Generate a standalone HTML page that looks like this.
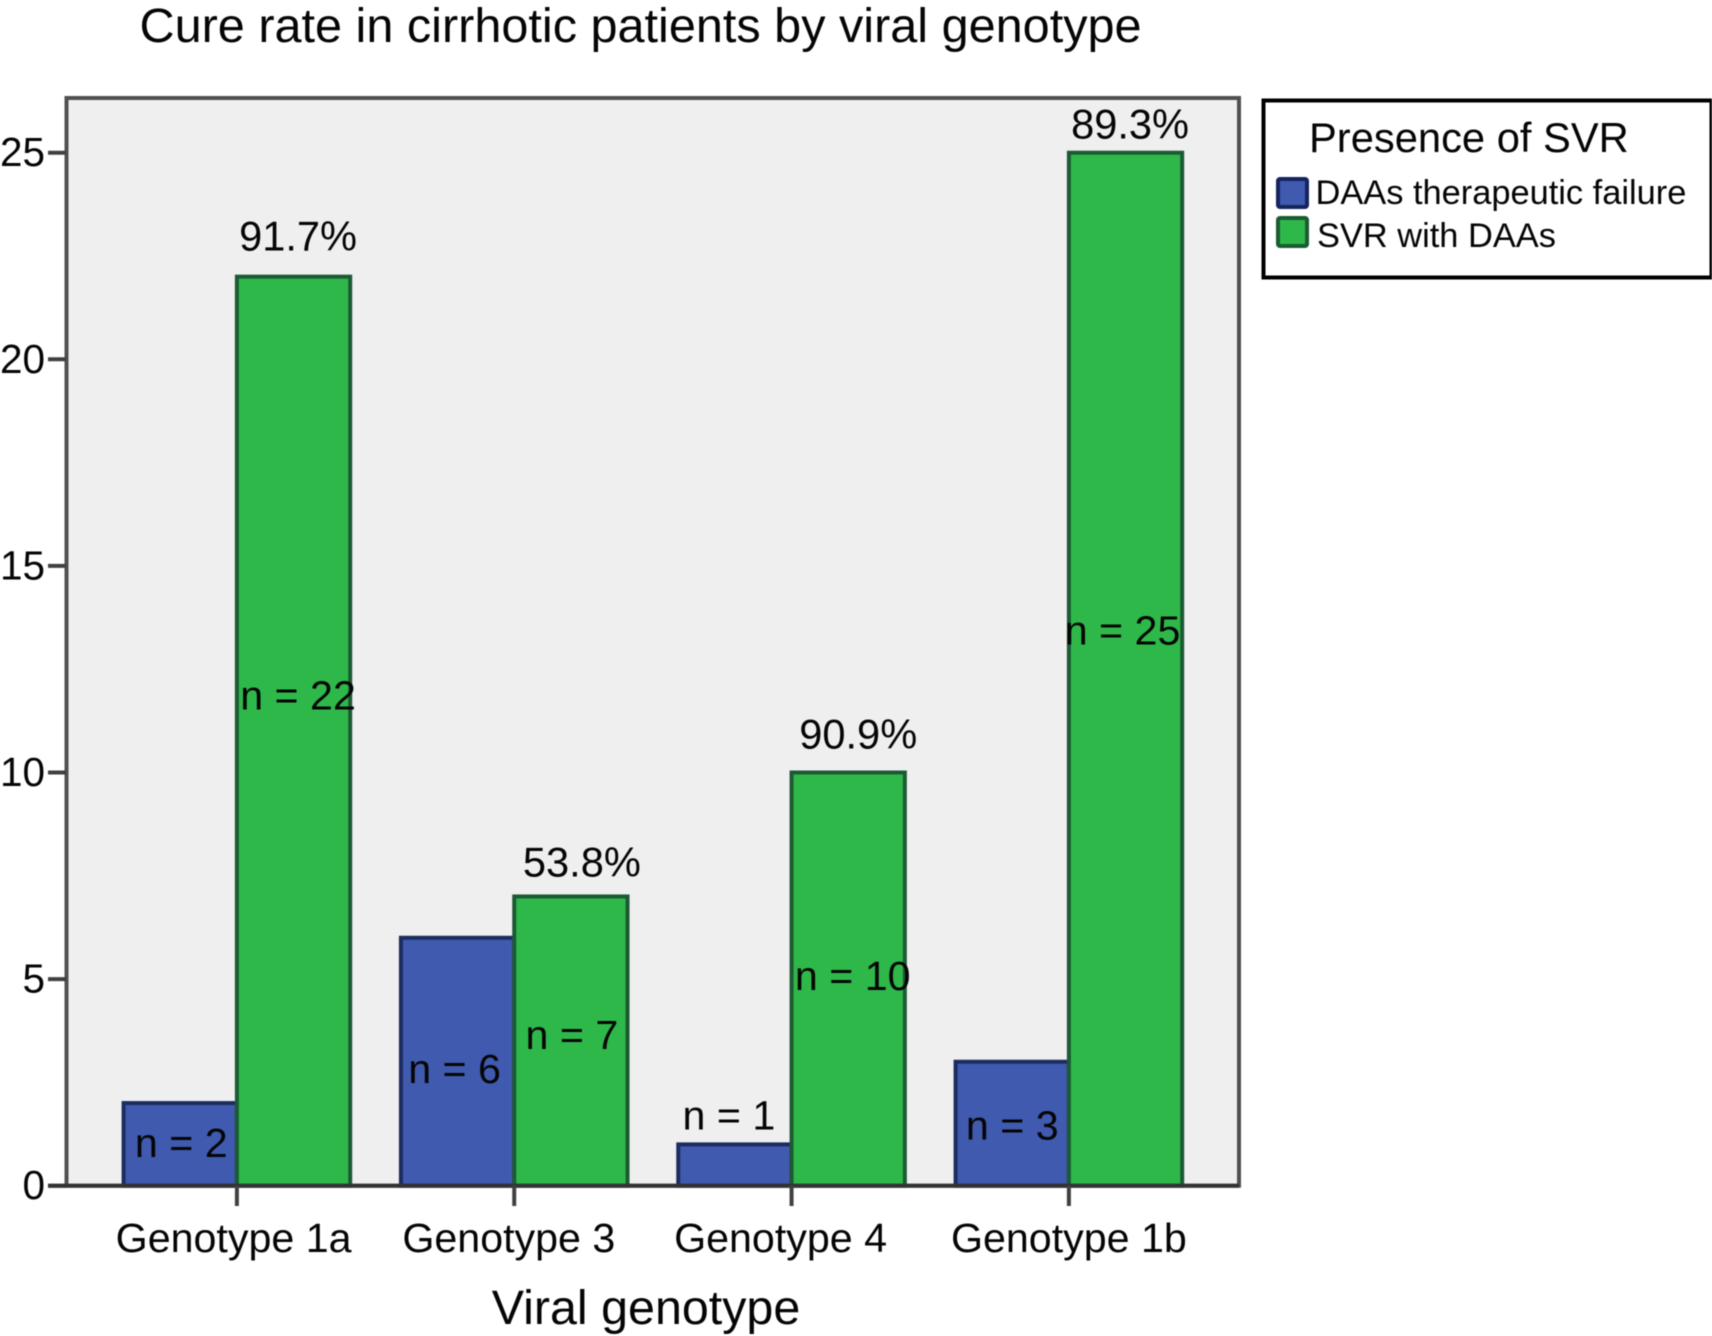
<!DOCTYPE html>
<html lang="en">
<head>
<meta charset="utf-8">
<title>Cure rate in cirrhotic patients by viral genotype</title>
<style>
html,body{margin:0;padding:0;background:#fff;}
svg{display:block;font-family:"Liberation Sans",Arial,sans-serif;filter:blur(0.5px);}
text{fill:#050505;}
</style>
</head>
<body>
<svg id="chart" xmlns="http://www.w3.org/2000/svg" width="1712" height="1336" viewBox="0 0 1712 1336">
  <rect x="0" y="0" width="1712" height="1336" fill="#ffffff"/>
  <text x="139.5" y="42" font-size="48.6">Cure rate in cirrhotic patients by viral genotype</text>
  <rect id="plot" x="66.5" y="98" width="1172.5" height="1087.7" fill="#efefef" stroke="#505050" stroke-width="4"/>
  <g id="y-axis"></g>
  <g id="bars"></g>
  <g id="x-axis"></g>
  <g id="labels"></g>
  <text x="646" y="1324" font-size="48.4" text-anchor="middle">Viral genotype</text>
  <g>
    <rect x="1263.5" y="100.5" width="448" height="177" fill="#ffffff" stroke="#000000" stroke-width="4"/>
    <text x="1309" y="152" font-size="41.7">Presence of SVR</text>
    <rect x="1278" y="179" width="29" height="28" rx="2" fill="#3f5aae" stroke="#15245e" stroke-width="4"/>
    <text x="1315.5" y="204" font-size="34.4">DAAs therapeutic failure</text>
    <rect x="1278" y="218" width="29" height="28" rx="2" fill="#2fb84a" stroke="#1a5c30" stroke-width="4"/>
    <text x="1317" y="247" font-size="34.4">SVR with DAAs</text>
  </g>
</svg>
<script>
// Chart data
var categories = ["Genotype 1a", "Genotype 3", "Genotype 4", "Genotype 1b"];
var failureCounts = [2, 6, 1, 3];
var svrCounts = [22, 7, 10, 25];
var cureRateLabels = ["91.7%", "53.8%", "90.9%", "89.3%"];
var yTicks = [0, 5, 10, 15, 20, 25];

// Layout
var NS = "http://www.w3.org/2000/svg";
var BASE_Y = 1185.7, UNIT_H = 41.32;
var FIRST_CENTER = 236.9, GROUP_STEP = 277.33, BAR_W = 113.3;
function yScale(v) { return BASE_Y - v * UNIT_H; }
function xCenter(i) { return FIRST_CENTER + i * GROUP_STEP; }

// Hand placement nudges of the annotation text, relative to each bar
var catNudge = [-3.3, -5.4, -11, 0];
var pctNudgeX = [4.5, 11, 10, 4.5];
var pctNudgeY = [-26, -20, -24, -14];
var failNudgeX = [1, -3, -6, 0];
var failNudgeY = [54, 145, -15, 78];
var svrNudgeX = [4.5, 1, 4.5, -3];
var svrNudgeY = [433, 152.5, 217.5, 492];

function mk(tag, attrs, parent) {
  var el = document.createElementNS(NS, tag);
  for (var k in attrs) el.setAttribute(k, attrs[k]);
  parent.appendChild(el);
  return el;
}

var yAxis = document.getElementById("y-axis");
yTicks.forEach(function (t) {
  var y = yScale(t);
  var tick = mk("line", { x1: 48, x2: 66, y1: y, y2: y, stroke: "#404040", "stroke-width": 4 }, yAxis);
  
  
  var lab = mk("text", { x: 45, y: y + 13.5, "font-size": 40.5, "text-anchor": "end" }, yAxis);
  
  
  lab.textContent = t;
});

var barsG = document.getElementById("bars");
categories.forEach(function (c, i) {
  var cx = xCenter(i);
  var yF = yScale(failureCounts[i]);
  var rF = mk("rect", { x: cx - BAR_W, y: yF, width: BAR_W, height: BASE_Y - yF, fill: "#3f5aae", stroke: "#1c2c5e", "stroke-width": 4 }, barsG);
  
  
  var yS = yScale(svrCounts[i]);
  var rS = mk("rect", { x: cx, y: yS, width: BAR_W, height: BASE_Y - yS, fill: "#2fb84a", stroke: "#1c5a33", "stroke-width": 4 }, barsG);
  
  
});

var xAxis = document.getElementById("x-axis");
var axisLine = mk("line", { x1: 48, x2: 1239, y1: BASE_Y, y2: BASE_Y, stroke: "#333333", "stroke-width": 4 }, xAxis);


categories.forEach(function (c, i) {
  var cx = xCenter(i);
  var tick = mk("line", { x1: cx, x2: cx, y1: BASE_Y, y2: 1206, stroke: "#404040", "stroke-width": 4 }, xAxis);
  
  
  var lab = mk("text", { x: cx + catNudge[i], y: 1252, "font-size": 41.2, "text-anchor": "middle" }, xAxis);
  
  
  lab.textContent = c;
});

var labelsG = document.getElementById("labels");
categories.forEach(function (c, i) {
  var cx = xCenter(i);
  var nF = mk("text", { x: cx - BAR_W / 2 + failNudgeX[i], y: yScale(failureCounts[i]) + failNudgeY[i], "font-size": 41.2, "text-anchor": "middle" }, labelsG);
  
  
  nF.textContent = "n = " + failureCounts[i];
  var nS = mk("text", { x: cx + BAR_W / 2 + svrNudgeX[i], y: yScale(svrCounts[i]) + svrNudgeY[i], "font-size": 41.2, "text-anchor": "middle" }, labelsG);
  
  
  nS.textContent = "n = " + svrCounts[i];
  var pct = mk("text", { x: cx + BAR_W / 2 + pctNudgeX[i], y: yScale(svrCounts[i]) + pctNudgeY[i], "font-size": 41.6, "text-anchor": "middle" }, labelsG);
  
  
  pct.textContent = cureRateLabels[i];
});
</script>
</body>
</html>
